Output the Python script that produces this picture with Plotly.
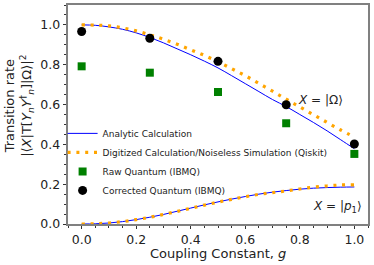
import plotly.graph_objects as go

# ---- data ----
g_curve = [0.0, 0.05, 0.1, 0.15, 0.2, 0.25, 0.3, 0.35, 0.4, 0.45, 0.5,
           0.55, 0.6, 0.65, 0.7, 0.75, 0.8, 0.85, 0.9, 0.95, 1.0]
analytic_omega = [1.000, 0.998, 0.990, 0.978, 0.960, 0.937, 0.910, 0.880, 0.850, 0.818, 0.784,
                  0.745, 0.705, 0.665, 0.625, 0.590, 0.550, 0.510, 0.468, 0.423, 0.378]
digitized_omega = [1.000, 0.999, 0.995, 0.985, 0.970, 0.950, 0.928, 0.903, 0.875, 0.847, 0.815,
                   0.780, 0.745, 0.706, 0.667, 0.627, 0.588, 0.549, 0.510, 0.472, 0.437]
analytic_p1 = [0.000, 0.001, 0.005, 0.012, 0.022, 0.034, 0.048, 0.064, 0.080, 0.096, 0.111,
               0.125, 0.138, 0.150, 0.160, 0.168, 0.175, 0.180, 0.183, 0.185, 0.186]
digitized_p1 = [0.000, 0.001, 0.005, 0.012, 0.022, 0.034, 0.048, 0.063, 0.079, 0.095, 0.110,
                0.124, 0.137, 0.149, 0.158, 0.166, 0.176, 0.185, 0.191, 0.196, 0.197]

g_points = [0.0, 0.25, 0.5, 0.75, 1.0]
raw_quantum = [0.792, 0.760, 0.663, 0.506, 0.352]
corrected_quantum = [0.967, 0.933, 0.817, 0.599, 0.402]

x_ticks = [0.0, 0.2, 0.4, 0.6, 0.8, 1.0]
y_ticks = [0.0, 0.2, 0.4, 0.6, 0.8, 1.0]

FONT = "DejaVu Sans"
TXT = "#222"
DOTS = "3px,5.8px"

fig = go.Figure()

fig.add_trace(go.Scatter(x=g_curve, y=analytic_omega, mode="lines", line=dict(color="blue", width=1),
                         line_shape="spline", name="Analytic Calculation"))
fig.add_trace(go.Scatter(x=g_curve, y=digitized_omega, mode="lines",
                         line=dict(color="orange", width=3.2, dash=DOTS), line_shape="spline",
                         name="Digitized Calculation/Noiseless Simulation (Qiskit)"))
fig.add_trace(go.Scatter(x=g_curve, y=analytic_p1, mode="lines", line=dict(color="blue", width=1),
                         line_shape="spline", showlegend=False))
fig.add_trace(go.Scatter(x=g_curve, y=digitized_p1, mode="lines",
                         line=dict(color="orange", width=3.2, dash=DOTS), line_shape="spline",
                         showlegend=False))
fig.add_trace(go.Scatter(x=g_points, y=raw_quantum, mode="markers",
                         marker=dict(symbol="square", color="green", size=8),
                         name="Raw Quantum (IBMQ)"))
fig.add_trace(go.Scatter(x=g_points, y=corrected_quantum, mode="markers",
                         marker=dict(symbol="circle", color="black", size=9),
                         name="Corrected Quantum (IBMQ)"))

fig.add_annotation(x=0.965, y=0.625, xref="x", yref="y", text="<i>X</i> = |Ω⟩", showarrow=False,
                   xanchor="right", yanchor="middle", font=dict(family=FONT, size=12, color=TXT))
fig.add_annotation(x=1.035, y=0.085, xref="x", yref="y", text="<i>X</i> = |<i>p</i><sub>1</sub>⟩", showarrow=False,
                   xanchor="right", yanchor="middle", font=dict(family=FONT, size=12, color=TXT))
# axis titles
fig.add_annotation(x=0.5, y=-0.135, xref="paper", yref="paper", text="Coupling Constant, <i>g</i>",
                   showarrow=False, xanchor="center", yanchor="middle",
                   font=dict(family=FONT, size=13, color=TXT))
fig.add_annotation(x=-0.163, y=0.54, xref="paper", yref="paper", textangle=-90, align="center",
                   text="Transition rate<br>|⟨<i>X</i>|T[<i>Y<sub>n</sub>Y</i><sup>†</sup><sub><i>n</i></sub>]|Ω⟩|<sup>2</sup>",
                   showarrow=False, xanchor="center", yanchor="middle",
                   font=dict(family=FONT, size=13, color=TXT))

axis_common = dict(showline=True, linecolor="#808080", linewidth=1.5, mirror=True,
                   ticks="outside", ticklen=3.5, tickcolor="#333", tickwidth=1,
                   showgrid=False, zeroline=False,
                   tickfont=dict(family=FONT, size=12.5, color=TXT))

fig.update_xaxes(range=[-0.05, 1.05], tickvals=x_ticks, ticktext=[f"{v:.1f}" for v in x_ticks],
                 minor=dict(dtick=0.05, tick0=0, ticks="outside", ticklen=2, tickcolor="#333"),
                 **axis_common)
fig.update_yaxes(range=[0, 1.1], tickvals=y_ticks, ticktext=[f"{v:.1f}" for v in y_ticks],
                 minor=dict(dtick=0.05, tick0=0, ticks="outside", ticklen=2, tickcolor="#333"),
                 **axis_common)

fig.update_layout(
    width=374, height=265,
    margin=dict(l=68, r=6, t=5, b=41, autoexpand=False),
    plot_bgcolor="white", paper_bgcolor="white",
    font=dict(family=FONT, size=10, color=TXT),
    legend=dict(x=-0.018, y=0.48, xanchor="left", yanchor="top",
                bgcolor="rgba(255,255,255,0)", borderwidth=0,
                font=dict(family=FONT, size=9, color=TXT),
                tracegroupgap=0, itemwidth=30),
)

fig.write_html("out.html", config={"displayModeBar": False},
               post_script="document.body.style.margin='0';document.body.style.overflow='hidden';")
